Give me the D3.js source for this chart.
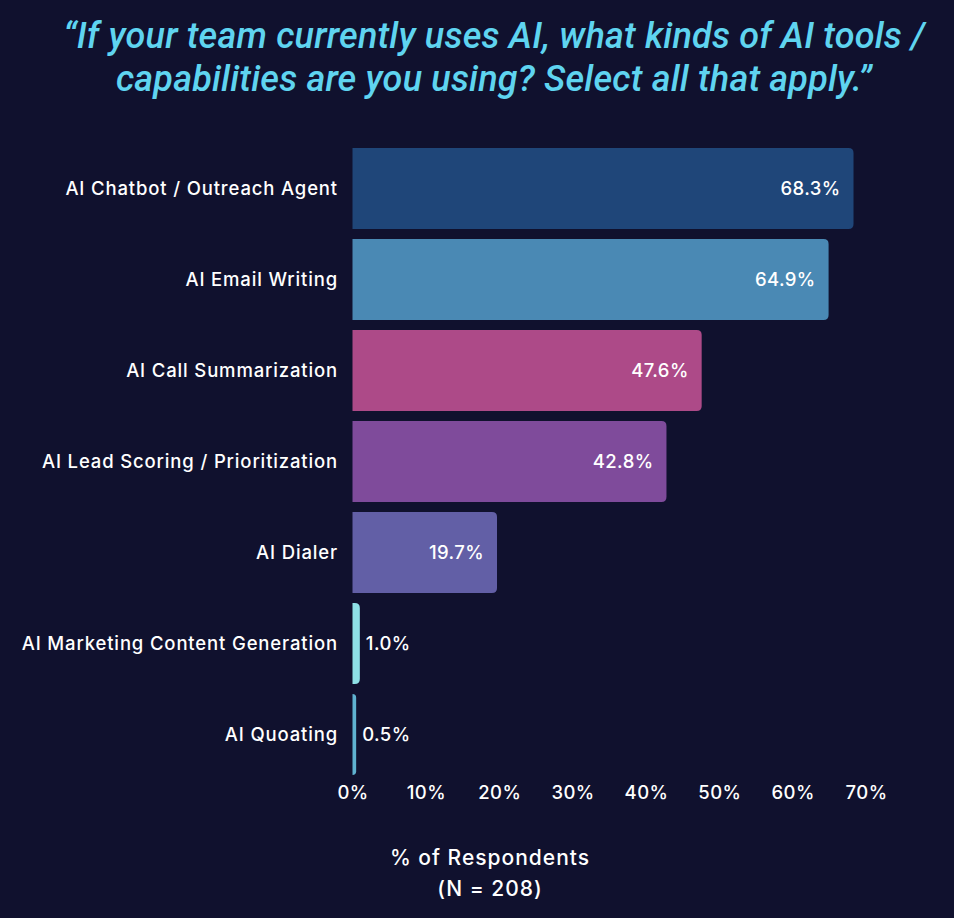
<!DOCTYPE html>
<html><head><meta charset="utf-8">
<script src="https://cdn.jsdelivr.net/npm/d3@7"></script>
<style>html,body{margin:0;padding:0;background:#10112e;}svg{display:block;}</style>
</head><body>
<svg id="chart" width="954" height="918"></svg>
<script>
const categories = ["AI Chatbot / Outreach Agent","AI Email Writing","AI Call Summarization","AI Lead Scoring / Prioritization","AI Dialer","AI Marketing Content Generation","AI Quoating"];
const values = [68.3,64.9,47.6,42.8,19.7,1.0,0.5];
const colors = ["#1f4679","#4a89b4","#ad4a88","#7f4b9b","#625fa6","#8ee0e6","#5fb2d0"];
const ticks = [0,10,20,30,40,50,60,70];
const titleLines = ["\u201CIf your team currently uses AI, what kinds of AI tools /","capabilities are you using? Select all that apply.\u201D"];
const axisTitle = ["% of Respondents","(N = 208)"];

const svg = d3.select("#chart");
const W=954,H=918;
svg.append("rect").attr("width",W).attr("height",H).attr("fill","#10112e");
const font = "Inter, 'Noto Sans', sans-serif";

const x = d3.scaleLinear().domain([0,70]).range([352.5,866]);
const y = d3.scaleBand().domain(categories).range([138,785]).paddingInner(0.11).paddingOuter(0.11);

svg.selectAll("text.title").data(titleLines).join("text")
  .attr("x",494).attr("y",(d,i)=>48+i*43)
  .attr("text-anchor","middle").attr("fill","#5fd4f0")
  .attr("font-family","Roboto, Inter, sans-serif").attr("font-style","italic").attr("font-weight",500)
  .attr("font-size",36).attr("letter-spacing",0.2).text(d=>d);

function barPath(x0,y0,w,h,r){
  r=Math.min(r,w,h/2);
  return `M${x0},${y0}H${x0+w-r}Q${x0+w},${y0} ${x0+w},${y0+r}V${y0+h-r}Q${x0+w},${y0+h} ${x0+w-r},${y0+h}H${x0}Z`;
}
const data = categories.map((c,i)=>({c,v:values[i],col:colors[i]}));
svg.selectAll("path.bar").data(data).join("path")
  .attr("fill",d=>d.col)
  .attr("d",d=>barPath(x(0),y(d.c),Math.max(x(d.v)-x(0),2.5),y.bandwidth(),5));

svg.selectAll("text.val").data(data).join("text")
  .attr("x",d=> d.v>10 ? x(d.v)-13 : x(d.v)+6)
  .attr("y",d=>y(d.c)+y.bandwidth()/2)
  .attr("dy","0.35em")
  .attr("text-anchor",d=>d.v>10?"end":"start")
  .attr("fill","#ffffff").attr("font-family",font).attr("font-weight",500).attr("font-size",18.5).attr("letter-spacing",0.4)
  .text(d=>d.v.toFixed(1)+"%");

svg.selectAll("text.cat").data(data).join("text")
  .attr("x",338).attr("y",d=>y(d.c)+y.bandwidth()/2).attr("dy","0.35em")
  .attr("text-anchor","end").attr("fill","#ffffff").attr("font-family",font).attr("font-weight",500).attr("font-size",18.5).attr("letter-spacing",0.85)
  .text(d=>d.c);

const axis = d3.axisBottom(x).tickValues(ticks).tickFormat(d=>d+"%").tickSize(0).tickPadding(0);
const gA = svg.append("g").attr("transform","translate(0,786)").call(axis);
gA.select(".domain").remove();
gA.selectAll("text").attr("fill","#ffffff").attr("font-family",font).attr("font-weight",500).attr("font-size",18.5).attr("letter-spacing",0.4).attr("dy","0.71em");

svg.selectAll("text.axt").data(axisTitle).join("text")
  .attr("x",490).attr("y",(d,i)=>865+i*31)
  .attr("text-anchor","middle").attr("fill","#ffffff").attr("font-family",font).attr("font-weight",500).attr("font-size",21).attr("letter-spacing",1)
  .text(d=>d);
</script>
</body></html>
